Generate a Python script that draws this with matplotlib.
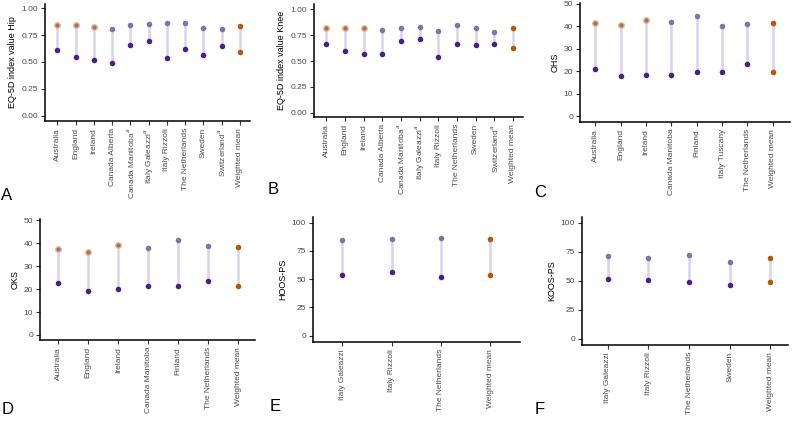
import matplotlib
matplotlib.use("Agg")
import matplotlib.pyplot as plt

plt.rcParams['font.family'] = ['Liberation Sans', 'DejaVu Sans']

# panel A / B countries
eq_countries = ['Australia', 'England', 'Ireland', 'Canada Alberta', 'Canada Manitoba$^{a}$',
                'Italy Galeazzi$^{a}$', 'Italy Rizzoli', 'The Netherlands', 'Sweden',
                'Switzerland$^{a}$', 'Weighted mean']
hip_pre = [0.611, 0.549, 0.522, 0.494, 0.654, 0.698, 0.540, 0.623, 0.568, 0.648, 0.590]
hip_post = [0.846, 0.849, 0.824, 0.806, 0.843, 0.855, 0.864, 0.867, 0.815, 0.809, 0.836]
knee_pre = [0.661, 0.599, 0.568, 0.565, 0.689, 0.708, 0.543, 0.661, 0.652, 0.661, 0.630]
knee_post = [0.817, 0.817, 0.814, 0.795, 0.814, 0.829, 0.792, 0.851, 0.823, 0.780, 0.814]

ohs_countries = ['Australia', 'England', 'Ireland', 'Canada Manitoba', 'Finland',
                 'Italy Tuscany', 'The Netherlands', 'Weighted mean']
ohs_pre = [21.0, 18.0, 18.5, 18.5, 19.8, 19.8, 23.1, 19.8]
ohs_post = [41.7, 40.4, 42.9, 42.0, 44.4, 40.2, 41.1, 41.7]

oks_countries = ['Australia', 'England', 'Ireland', 'Canada Manitoba', 'Finland',
                 'The Netherlands', 'Weighted mean']
oks_pre = [22.5, 19.4, 19.9, 21.4, 21.4, 23.6, 21.4]
oks_post = [37.7, 36.2, 39.1, 38.0, 41.3, 39.0, 38.6]

hoos_countries = ['Italy Galeazzi', 'Italy Rizzoli', 'The Netherlands', 'Weighted mean']
hoos_pre = [53.7, 56.3, 51.6, 53.7]
hoos_post = [84.7, 85.8, 86.7, 85.8]

koos_countries = ['Italy Galeazzi', 'Italy Rizzoli', 'The Netherlands', 'Sweden', 'Weighted mean']
koos_pre = [51.3, 51.0, 49.0, 46.7, 49.3]
koos_post = [71.6, 69.9, 71.9, 65.8, 69.9]

# countries whose post value has an orange outline
ringed = ['Australia', 'England', 'Ireland']

W, H = 795, 425
PRE_COL = '#4a1f86'
POST_COL = '#8073ac'
MEAN_COL = '#b35806'
RING_COL = '#fdb863'
SEG_COL = '#d4d5ea'
GREY = '#4d4d4d'

fig = plt.figure(figsize=(W / 100, H / 100), dpi=100)


def px_axes(left, top, right, bottom):
    return fig.add_axes([left / W, 1 - bottom / H, (right - left) / W, (bottom - top) / H])


def dumbbell(ax, cats, pre, post, ylabel, yticks, ylim, xlim):
    x = list(range(len(cats)))
    for i, c in enumerate(cats):
        ax.plot([i, i], [pre[i], post[i]], color=SEG_COL, lw=1.8, zorder=1)
        mean = c == 'Weighted mean'
        pc = MEAN_COL if mean else PRE_COL
        qc = MEAN_COL if mean else POST_COL
        ec = RING_COL if c in ringed else qc
        ax.scatter(i, pre[i], s=16, color=pc, zorder=3, linewidths=0)
        ax.scatter(i, post[i], s=16, color=qc, edgecolors=ec, linewidths=1.0 if c in ringed else 0, zorder=3)
    ax.set_xticks(x)
    ax.set_xticklabels(cats, rotation=90, fontsize=6, color=GREY)
    ax.set_yticks(yticks)
    ax.set_yticklabels([f'{v:.2f}' if isinstance(v, float) else str(v) for v in yticks],
                       fontsize=6, color=GREY)
    ax.set_ylabel(ylabel, fontsize=6.5, color='black', labelpad=3)
    ax.set_ylim(*ylim)
    ax.set_xlim(*xlim)
    for s in ['top', 'right']:
        ax.spines[s].set_visible(False)
    for s in ['left', 'bottom']:
        ax.spines[s].set_linewidth(1.1)
        ax.spines[s].set_color('black')
    ax.tick_params(length=3, width=0.8, color='#333333', pad=2)


eq_ticks = [0.0, 0.25, 0.5, 0.75, 1.0]

axA = px_axes(45, 4, 250, 121)
dumbbell(axA, eq_countries, hip_pre, hip_post, 'EQ-5D index value Hip', eq_ticks, (-0.05, 1.04), (-0.67, 10.55))

axB = px_axes(314, 4, 523, 117)
dumbbell(axB, eq_countries, knee_pre, knee_post, 'EQ-5D index value Knee', eq_ticks, (-0.04, 1.05), (-0.67, 10.55))

axC = px_axes(580, 3, 790, 122)
dumbbell(axC, ohs_countries, ohs_pre, ohs_post, 'OHS', [0, 10, 20, 30, 40, 50], (-2.6, 50.4), (-0.6, 7.68))

axD = px_axes(40, 219, 255, 340)
dumbbell(axD, oks_countries, oks_pre, oks_post, 'OKS', [0, 10, 20, 30, 40, 50], (-2.2, 50.6), (-0.61, 6.56))

axE = px_axes(313, 217, 520, 342)
dumbbell(axE, hoos_countries, hoos_pre, hoos_post, 'HOOS-PS', [0, 25, 50, 75, 100], (-5.5, 105), (-0.59, 3.6))

axF = px_axes(582, 217, 788, 345)
dumbbell(axF, koos_countries, koos_pre, koos_post, 'KOOS-PS', [0, 25, 50, 75, 100], (-5.4, 105), (-0.63, 4.43))

letters = [('A', 1, 200), ('B', 268, 194), ('C', 534, 197),
           ('D', 2, 414), ('E', 270, 411), ('F', 535, 414)]
for lab, lx, ly in letters:
    fig.text(lx / W, 1 - ly / H, lab, fontsize=12, ha='left', va='baseline')

fig.savefig('out.png', dpi=100)
